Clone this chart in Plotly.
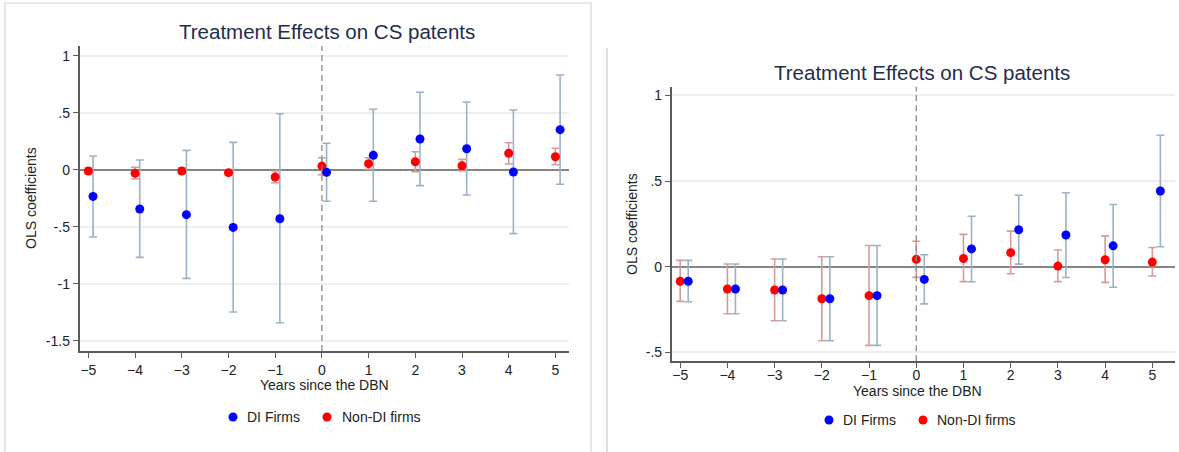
import plotly.graph_objects as go

# ---- data -------------------------------------------------------------
years = [-5, -4, -3, -2, -1, 0, 1, 2, 3, 4, 5]

# Panel A: estimates and 95% CI bounds
a_di_est = [-0.234, -0.345, -0.394, -0.506, -0.430, -0.023, 0.126, 0.269, 0.184, -0.020, 0.351]
a_di_lo = [-0.590, -0.769, -0.953, -1.248, -1.342, -0.277, -0.277, -0.140, -0.222, -0.561, -0.127]
a_di_hi = [0.120, 0.085, 0.170, 0.240, 0.491, 0.232, 0.530, 0.679, 0.594, 0.524, 0.831]

a_non_est = [-0.011, -0.032, -0.011, -0.026, -0.064, 0.032, 0.053, 0.070, 0.035, 0.144, 0.114]
a_non_lo = [-0.035, -0.082, -0.035, -0.045, -0.114, -0.044, 0.004, -0.018, -0.011, 0.050, 0.044]
a_non_hi = [0.015, 0.021, 0.017, -0.005, -0.011, 0.105, 0.105, 0.158, 0.091, 0.237, 0.188]

# Panel B: estimates and 95% CI bounds
b_di_est = [-0.085, -0.130, -0.136, -0.187, -0.169, -0.074, 0.104, 0.216, 0.185, 0.122, 0.442]
b_di_lo = [-0.204, -0.274, -0.315, -0.432, -0.459, -0.217, -0.088, 0.015, -0.063, -0.120, 0.117]
b_di_hi = [0.037, 0.016, 0.045, 0.058, 0.124, 0.070, 0.295, 0.417, 0.432, 0.363, 0.768]

b_non_est = [-0.085, -0.130, -0.136, -0.187, -0.169, 0.043, 0.048, 0.082, 0.004, 0.041, 0.027]
b_non_lo = [-0.202, -0.274, -0.315, -0.432, -0.459, -0.062, -0.087, -0.041, -0.087, -0.091, -0.054]
b_non_hi = [0.037, 0.016, 0.045, 0.058, 0.124, 0.149, 0.189, 0.208, 0.098, 0.180, 0.112]

a_yticks = [1, 0.5, 0, -0.5, -1, -1.5]
a_yticktext = ["1", ".5", "0", "-.5", "-1", "-1.5"]
b_yticks = [1, 0.5, 0, -0.5]
b_yticktext = ["1", ".5", "0", "-.5"]

TITLE = "Treatment Effects on CS patents"
XTITLE = "Years since the DBN"
YTITLE = "OLS coefficients"
DI_NAME = "DI Firms"
NON_NAME = "Non-DI firms"

# ---- style ------------------------------------------------------------
W, H = 1179, 452
FONT = "Liberation Sans, Arial, sans-serif"
BLUE = "#0000ff"
RED = "#ff0000"
BLUE_CI = "#9db1c6"
RED_CI = "#d49c9c"
GRID = "#e9eff2"
AXIS = "#5a5a5a"
TITLE_C = "#1f2d4d"
TXT = "#222222"
A_SHIFT = 0.1   # horizontal offset of the DI series in panel A
B_SHIFT = 0.17  # horizontal offset of the DI series in panel B
DOT = 9


def px_x(p):
    return p / W


def px_y(p):
    return 1 - p / H


fig = go.Figure()


def add_panel(xa, ya, shift, di_est, di_lo, di_hi, non_est, non_lo, non_hi):
    di_x = [v + shift for v in years]
    # confidence intervals first, point estimates on top
    for xs, est, lo, hi, col in [
        (years, non_est, non_lo, non_hi, RED_CI),
        (di_x, di_est, di_lo, di_hi, BLUE_CI),
    ]:
        fig.add_trace(go.Scatter(
            x=xs, y=est, mode="markers", xaxis=xa, yaxis=ya,
            marker=dict(size=1, color="rgba(0,0,0,0)"),
            error_y=dict(type="data", symmetric=False,
                         array=[h - e for h, e in zip(hi, est)],
                         arrayminus=[e - l for e, l in zip(est, lo)],
                         color=col, thickness=1.6, width=4),
            showlegend=False, hoverinfo="skip"))
    fig.add_trace(go.Scatter(
        x=years, y=non_est, mode="markers", xaxis=xa, yaxis=ya,
        marker=dict(size=DOT, color=RED), name=NON_NAME, showlegend=False))
    fig.add_trace(go.Scatter(
        x=di_x, y=di_est, mode="markers", xaxis=xa, yaxis=ya,
        marker=dict(size=DOT, color=BLUE), name=DI_NAME, showlegend=False))


add_panel("x", "y", A_SHIFT, a_di_est, a_di_lo, a_di_hi,
          a_non_est, a_non_lo, a_non_hi)
add_panel("x2", "y2", B_SHIFT, b_di_est, b_di_lo, b_di_hi,
          b_non_est, b_non_lo, b_non_hi)

xcommon = dict(tickvals=years, ticks="outside", ticklen=5, tickwidth=1,
               tickcolor=AXIS, showline=True, linecolor=AXIS, linewidth=1.5,
               showgrid=False, zeroline=False,
               tickfont=dict(family=FONT, size=14, color=TXT))
ycommon = dict(ticks="outside", ticklen=5, tickwidth=1, tickcolor=AXIS,
               showline=True, linecolor=AXIS, linewidth=1.5,
               showgrid=True, gridcolor=GRID, gridwidth=1.5,
               zeroline=True, zerolinecolor="#858585", zerolinewidth=2,
               tickfont=dict(family=FONT, size=14, color=TXT))

a_top, a_bot, a_left, a_right = 46, 351, 79.5, 568.5
b_top, b_bot, b_left, b_right = 86.7, 361.3, 671.7, 1175

fig.update_layout(
    width=W, height=H, margin=dict(l=0, r=0, t=0, b=0),
    paper_bgcolor="white", plot_bgcolor="white",
    font=dict(family=FONT, color=TXT), showlegend=False,
    xaxis=dict(domain=[px_x(a_left), px_x(a_right)], range=[-5.19, 5.28],
               anchor="y", **xcommon),
    yaxis=dict(domain=[px_y(a_bot), px_y(a_top)], range=[-1.59, 1.085],
               anchor="x", tickvals=a_yticks, ticktext=a_yticktext, **ycommon),
    xaxis2=dict(domain=[px_x(b_left), px_x(b_right)], range=[-5.18, 5.48],
                anchor="y2", ticklabelstandoff=-5, **xcommon),
    yaxis2=dict(domain=[px_y(b_bot), px_y(b_top)], range=[-0.552, 1.051],
                anchor="x2", tickvals=b_yticks, ticktext=b_yticktext, **ycommon),
)

shapes = [
    # panel frames
    dict(type="rect", xref="paper", yref="paper", x0=px_x(5), x1=px_x(591),
         y0=-0.02, y1=px_y(3), line=dict(color="#d4d4d4", width=1.2)),
    dict(type="line", xref="paper", yref="paper", x0=px_x(607), x1=px_x(607),
         y0=0, y1=px_y(48), line=dict(color="#d4d4d4", width=1.5)),
    # event-time reference lines
    dict(type="line", xref="x", yref="y domain", x0=0, x1=0, y0=0, y1=1,
         line=dict(color="#8a8a8a", width=1.3, dash="6px,4px")),
    dict(type="line", xref="x2", yref="y2 domain", x0=0, x1=0, y0=0, y1=1,
         line=dict(color="#8a8a8a", width=1.3, dash="6px,4px")),
]

ann = []
for cx, cy in [(327, 31), (922, 73)]:
    ann.append(dict(text=TITLE, xref="paper", yref="paper", x=px_x(cx),
                    y=px_y(cy), xanchor="center", yanchor="middle",
                    showarrow=False,
                    font=dict(family=FONT, size=20.5, color=TITLE_C)))
for cx, cy in [(324, 385), (917, 391)]:
    ann.append(dict(text=XTITLE, xref="paper", yref="paper", x=px_x(cx),
                    y=px_y(cy), xanchor="center", yanchor="middle",
                    showarrow=False, font=dict(family=FONT, size=14, color=TXT)))
for cx, cy in [(31, 198), (632, 224)]:
    ann.append(dict(text=YTITLE, xref="paper", yref="paper", x=px_x(cx),
                    y=px_y(cy), xanchor="center", yanchor="middle",
                    textangle=-90, showarrow=False,
                    font=dict(family=FONT, size=14, color=TXT)))

# legend keys: (dot x, text x, y) for each panel
legend_rows = [
    [(233, 245, 417, BLUE, DI_NAME), (327, 340, 417, RED, NON_NAME)],
    [(829, 841, 420, BLUE, DI_NAME), (923, 935, 420, RED, NON_NAME)],
]
r = DOT / 2
for row in legend_rows:
    for dx, tx, ly, col, label in row:
        shapes.append(dict(type="circle", xref="paper", yref="paper",
                           x0=px_x(dx - r), x1=px_x(dx + r),
                           y0=px_y(ly + r), y1=px_y(ly - r),
                           fillcolor=col, line=dict(width=0)))
        ann.append(dict(text=label, xref="paper", yref="paper", x=px_x(tx),
                        y=px_y(ly), xanchor="left", yanchor="middle",
                        showarrow=False,
                        font=dict(family=FONT, size=14, color=TXT)))

fig.update_layout(shapes=shapes, annotations=ann)

fig.write_html("out.html")
